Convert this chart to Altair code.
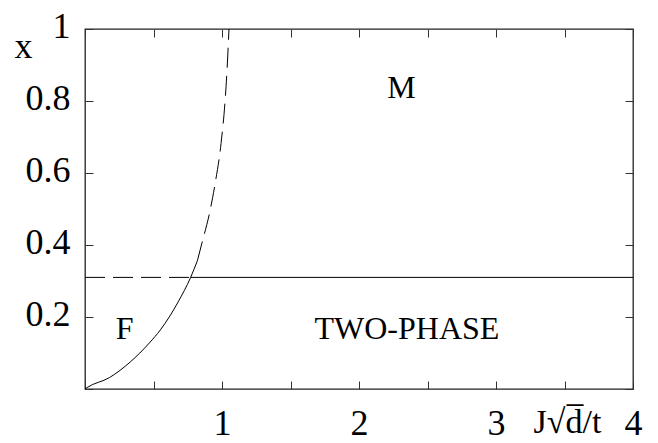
import altair as alt
import pandas as pd

# Solid phase boundary (F / TWO-PHASE)
solid_x = [0.0, 0.015, 0.18, 0.33, 0.47, 0.55, 0.62, 0.68, 0.77, 0.82]
solid_y = [0.0, 0.004, 0.032, 0.075, 0.128, 0.164, 0.203, 0.242, 0.309, 0.356]
# Dashed continuation of the boundary
dashed_x = [0.82, 0.854, 0.912, 0.949, 0.993, 1.022, 1.036, 1.051]
dashed_y = [0.356, 0.406, 0.494, 0.569, 0.682, 0.798, 0.881, 1.0]
# Horizontal boundary x = 0.31
hdash_x = [0.0, 0.77]
hsolid_x = [0.77, 4.0]
h_level = 0.31

label_text = ["F", "TWO-PHASE", "M"]
label_x = [0.29, 2.35, 2.31]
label_y = [0.168, 0.168, 0.835]

x_ticks = [0, 0.5, 1, 1.5, 2, 2.5, 3, 3.5, 4]
y_ticks = [0, 0.2, 0.4, 0.6, 0.8, 1.0]

FONT = "Liberation Serif"
W, H = 548, 360

df_solid = pd.DataFrame({"x": solid_x, "y": solid_y})
df_dashed = pd.DataFrame({"x": dashed_x, "y": dashed_y})
df_hdash = pd.DataFrame({"x": hdash_x, "y": [h_level] * len(hdash_x)})
df_hsolid = pd.DataFrame({"x": hsolid_x, "y": [h_level] * len(hsolid_x)})
df_labels = pd.DataFrame({"x": label_x, "y": label_y, "t": label_text})

xs = alt.Scale(domain=[0, 4], nice=False, zero=False)
ys = alt.Scale(domain=[0, 1], nice=False, zero=False)

x_axis = alt.Axis(values=x_ticks, grid=False, domain=False, tickSize={"expr": "-8"},
                  tickColor="#333", labelFont=FONT, labelFontSize=36, labelColor="black",
                  labelPadding=53, labelBaseline="alphabetic",
                  labelExpr="datum.value > 0 && datum.value % 1 === 0 ? datum.value : ''",
                  title="J√d̅/t", titleFont=FONT, titleFontSize=34, titleFontWeight="normal",
                  titleColor="black", titleX=482, titleY=43, titleAlign="center",
                  titleBaseline="alphabetic", labelFlush=False, orient="bottom")
y_axis = alt.Axis(values=y_ticks, grid=False, domain=False, tickSize={"expr": "-8"},
                  tickColor="#333", labelFont=FONT, labelFontSize=36, labelColor="black",
                  labelPadding=23, labelOffset=-3, labelBaseline="middle",
                  labelExpr="datum.value == 0 ? '' : (datum.value == 1 ? '1' : format(datum.value, '.1f'))",
                  title="x", titleFont=FONT, titleFontSize=36, titleFontWeight="normal",
                  titleColor="black", titleAngle=0, titleX=-62, titleY=28, titleAlign="center",
                  titleBaseline="alphabetic", labelFlush=False, orient="left")

X = alt.X("x:Q", scale=xs, axis=x_axis)
Y = alt.Y("y:Q", scale=ys, axis=y_axis)

solid = alt.Chart(df_solid).mark_line(color="black", strokeWidth=1, interpolate="monotone").encode(x=X, y=Y, order=alt.Order("x:Q"))
dashed = alt.Chart(df_dashed).mark_line(color="black", strokeWidth=1, strokeDash=[20, 8], interpolate="monotone").encode(x=X, y=Y)
hdash = alt.Chart(df_hdash).mark_line(color="black", strokeWidth=1, strokeDash=[20, 8]).encode(x=X, y=Y)
hsolid = alt.Chart(df_hsolid).mark_line(color="black", strokeWidth=1).encode(x=X, y=Y)
labels = alt.Chart(df_labels).mark_text(font=FONT, fontSize=32, color="black", baseline="middle", align="center").encode(x=X, y=Y, text="t:N")

main = alt.layer(solid, dashed, hdash, hsolid, labels)

# mirrored ticks on top and right
x_axis_top = alt.Axis(values=x_ticks, grid=False, domain=False, tickSize={"expr": "-8"},
                      tickColor="#333", labels=False, title=None, orient="top")
y_axis_right = alt.Axis(values=y_ticks, grid=False, domain=False, tickSize={"expr": "-8"},
                        tickColor="#333", labels=False, title=None, orient="right")
mirror = alt.Chart(df_hsolid).mark_point(opacity=0).encode(
    x=alt.X("x:Q", scale=xs, axis=x_axis_top),
    y=alt.Y("y:Q", scale=ys, axis=y_axis_right),
)

chart = alt.layer(main, mirror).resolve_scale(x="independent", y="independent").properties(
    width=W, height=H,
    autosize=alt.AutoSizeParams(type="none"),
    padding={"left": 77, "top": 21, "right": 17, "bottom": 56},
    background="white",
).configure_view(stroke="#222", strokeWidth=1.3)

chart.save("out.html", embed_options={"renderer": "svg", "actions": False})
